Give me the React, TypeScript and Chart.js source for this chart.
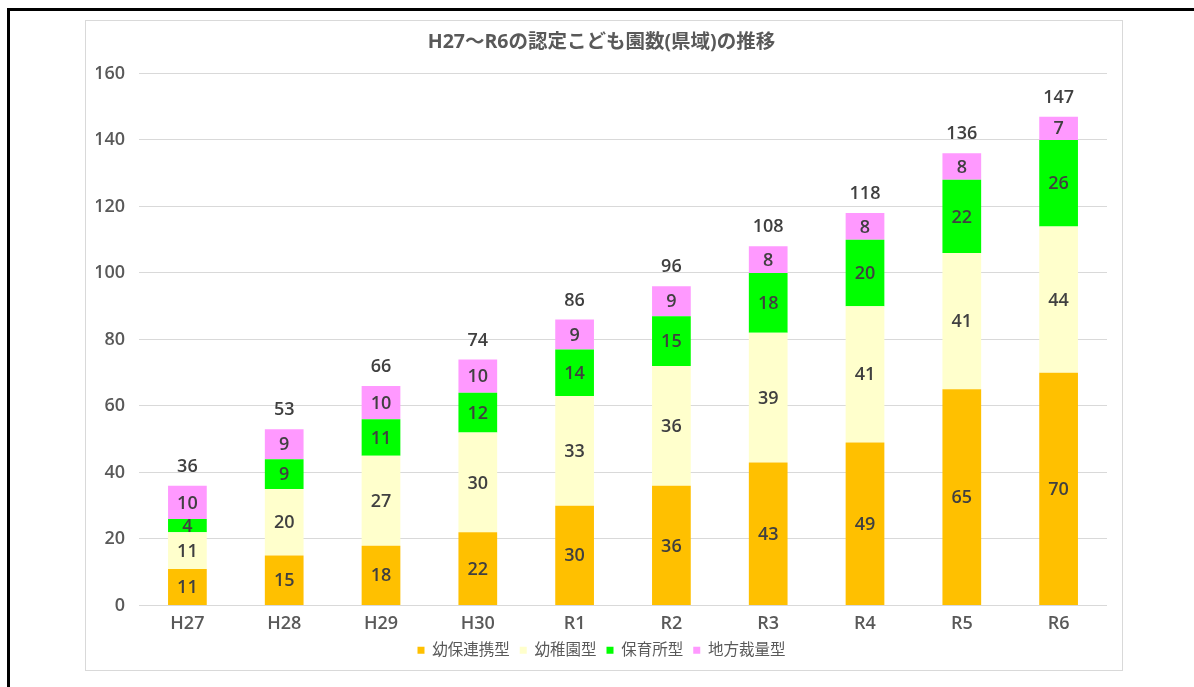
import React, { useEffect, useRef } from "react";
import { Chart, registerables } from "chart.js";

Chart.register(...registerables);

const categories = ["H27", "H28", "H29", "H30", "R1", "R2", "R3", "R4", "R5", "R6"];
const seriesNames = ["幼保連携型", "幼稚園型", "保育所型", "地方裁量型"];
const youhoRenkei = [11, 15, 18, 22, 30, 36, 43, 49, 65, 70];
const youchien = [11, 20, 27, 30, 33, 36, 39, 41, 41, 44];
const hoikusho = [4, 9, 11, 12, 14, 15, 18, 20, 22, 26];
const chihou = [10, 9, 10, 10, 9, 9, 8, 8, 8, 7];
const totals = [36, 53, 66, 74, 86, 96, 108, 118, 136, 147];
const yTicks = [0, 20, 40, 60, 80, 100, 120, 140, 160];
const titleText = "H27～R6の認定こども園数(県域)の推移";

const colors = ["#FFC000", "#FFFFCC", "#00FF00", "#FF99FF"];
const FONT = "'Open Sans', 'Noto Sans CJK JP', sans-serif";

const labelPlugin = {
  id: "barLabels",
  afterDatasetsDraw(chart: any) {
    const ctx = chart.ctx;
    ctx.save();
    ctx.textAlign = "center";
    ctx.textBaseline = "middle";
    ctx.font = `600 18px ${FONT}`;
    ctx.fillStyle = "#404040";
    chart.data.datasets.forEach((ds: any, di: number) => {
      const meta = chart.getDatasetMeta(di);
      meta.data.forEach((el: any, i: number) => {
        const v = ds.data[i];
        const { x, y, base } = el.getProps(["x", "y", "base"], true);
        ctx.fillText(String(v), x, (y + base) / 2 + 1);
      });
    });
    const last = chart.getDatasetMeta(chart.data.datasets.length - 1);
    last.data.forEach((el: any, i: number) => {
      const { x, y } = el.getProps(["x", "y"], true);
      ctx.fillText(String(totals[i]), x, y - 19);
    });
    ctx.restore();
  },
};

export default function App() {
  const ref = useRef<HTMLCanvasElement>(null);
  useEffect(() => {
    if (!ref.current) return;
    const data = [youhoRenkei, youchien, hoikusho, chihou];
    const chart = new Chart(ref.current, {
      type: "bar",
      data: {
        labels: categories,
        datasets: data.map((d, i) => ({
          label: seriesNames[i],
          data: d,
          backgroundColor: colors[i],
          borderWidth: 0,
          barPercentage: 0.8,
          categoryPercentage: 0.5,
        })),
      },
      options: {
        animation: false,
        responsive: false,
        maintainAspectRatio: false,
        layout: { padding: { left: 10, right: 15, top: 0, bottom: 2 } },
        plugins: {
          title: {
            display: true,
            text: titleText,
            color: "#595959",
            font: { family: FONT, size: 19.5, weight: "bold" },
            padding: { top: 10, bottom: 19 },
          },
          legend: {
            position: "bottom",
            labels: {
              color: "#595959",
              font: { family: FONT, size: 15.5, weight: "normal" },
              boxWidth: 7,
              boxHeight: 7,
              padding: 10,
            },
          },
          tooltip: { enabled: false },
        },
        scales: {
          x: {
            stacked: true,
            afterFit: (s: any) => { s.height = 27; },
            grid: { display: false, drawTicks: false },
            border: { display: false },
            ticks: { color: "#595959", font: { family: FONT, size: 18, weight: "600" }, padding: 8 },
          },
          y: {
            stacked: true,
            min: 0,
            max: 160,
            afterFit: (s: any) => { s.width = 43; },
            afterBuildTicks: (s: any) => { s.ticks = yTicks.map((v) => ({ value: v })); },
            grid: { color: "#d9d9d9", drawTicks: false },
            border: { display: false },
            ticks: { color: "#595959", font: { family: FONT, size: 18, weight: "600" }, padding: 14 },
          },
        },
      },
      plugins: [labelPlugin],
    });
    return () => chart.destroy();
  }, []);

  return (
    <div style={{ position: "fixed", inset: 0, overflow: "hidden", background: "#fff" }}>
      <div style={{ position: "absolute", left: 7, top: 8, width: 1400, height: 900, border: "3px solid #000" }} />
      <div style={{ position: "absolute", left: 85, top: 20, width: 1036, height: 649, border: "1px solid #d9d9d9", background: "#fff" }}>
        <canvas ref={ref} width={1036} height={649} style={{ display: "block", width: 1036, height: 649 }} />
      </div>
    </div>
  );
}
